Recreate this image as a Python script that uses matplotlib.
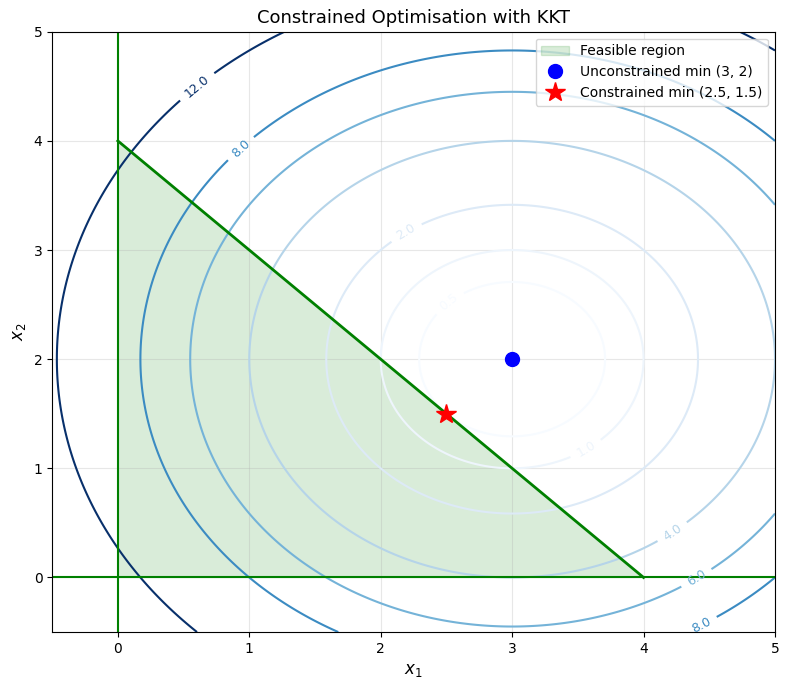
import numpy as np
import matplotlib
matplotlib.use("Agg")
import matplotlib.pyplot as plt

# objective f = (x1 - 3)^2 + (x2 - 2)^2, constraint x1 + x2 <= 4, x >= 0
centre = (3, 2)
levels = [0.5, 1.0, 2.0, 4.0, 6.0, 8.0, 12.0]
feasible_x = [0, 4, 0]
feasible_y = [0, 0, 4]
unc_min = (3, 2)
con_min = (2.5, 1.5)
label_spots = [(2.5, 2.55), (3.55, 1.2), (2.2, 3.15), (4.2, 0.45),
               (4.4, 0.0), (4.4, -0.35), (1.0, 3.85), (0.6, 4.5)]

x1 = np.linspace(-0.5, 5, 400)
x2 = np.linspace(-0.5, 5, 400)
X1, X2 = np.meshgrid(x1, x2)
F = (X1 - centre[0]) ** 2 + (X2 - centre[1]) ** 2

fig, ax = plt.subplots(figsize=(7.9, 6.9), dpi=100)
cs = ax.contour(X1, X2, F, levels=levels, cmap="Blues", linewidths=1.5)
ax.clabel(cs, inline=True, fontsize=9, fmt="%.1f", manual=label_spots)

ax.fill(feasible_x, feasible_y, color="green", alpha=0.15, label="Feasible region")
ax.plot([0, 4], [4, 0], color="green", lw=2)
ax.axvline(0, color="green", lw=1.5)
ax.axhline(0, color="green", lw=1.5)

ax.plot(*unc_min, "bo", markersize=10, label="Unconstrained min (3, 2)")
ax.plot(*con_min, "r*", markersize=15, label="Constrained min (2.5, 1.5)")

ax.set_xlim(-0.5, 5)
ax.set_ylim(-0.5, 5)
ax.set_xlabel("$x_1$", fontsize=12)
ax.set_ylabel("$x_2$", fontsize=12)
ax.set_title("Constrained Optimisation with KKT", fontsize=13)
ax.grid(True, alpha=0.3)
ax.legend(loc="upper right")

fig.subplots_adjust(left=0.066, right=0.981, top=0.954, bottom=0.084)
plt.savefig("out.png", dpi=100)
